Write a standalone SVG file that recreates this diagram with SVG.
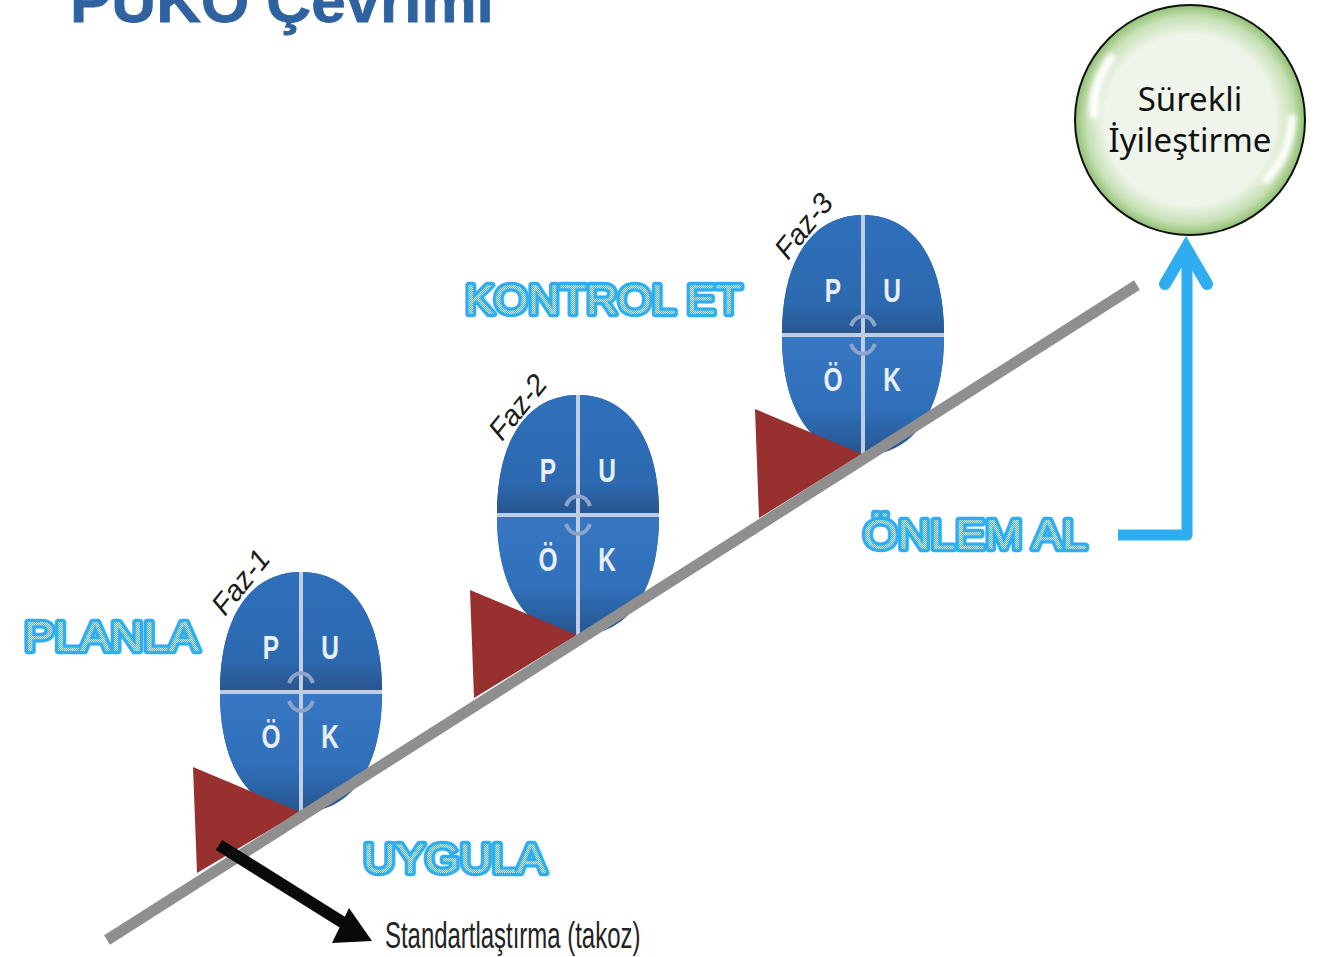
<svg xmlns="http://www.w3.org/2000/svg" width="1334" height="957" viewBox="0 0 1334 957">
<style>
.lbl{font-family:"Liberation Sans",Arial,sans-serif;font-size:42px;fill:url(#dots);stroke:#2eaef0;stroke-width:6.500px;paint-order:stroke;stroke-linejoin:round}
.ltr{font-family:"Liberation Sans",Arial,sans-serif;font-weight:700;font-size:34px;fill:#e9eff7;text-anchor:middle}
.faz{font-family:"Liberation Sans",Arial,sans-serif;font-style:italic;font-size:29px;fill:#1a1a1a}
.wedge{fill:#98302f}
.title{font-family:"Liberation Sans",Arial,sans-serif;font-weight:700;font-size:62px;fill:#2f62a0;stroke:#2f62a0;stroke-width:.8px}
.cap{font-family:"Noto Sans","Open Sans",sans-serif;font-size:33px;fill:#111;text-anchor:middle}
</style>
<defs>
<pattern id="dots" width="2" height="2" patternUnits="userSpaceOnUse">
<rect width="2" height="2" fill="#2eaef0"/><rect width="1" height="1" fill="#fff"/><rect x="1" y="1" width="1" height="1" fill="#fff"/>
</pattern>
<linearGradient id="topG" x1="0" y1="0" x2="0" y2="1"><stop offset="0" stop-color="#2f70bb"/><stop offset=".75" stop-color="#2c69b0"/><stop offset="1" stop-color="#28568f"/></linearGradient>
<linearGradient id="botG" x1="0" y1="0" x2="0" y2="1"><stop offset="0" stop-color="#3776c2"/><stop offset=".6" stop-color="#3070ba"/><stop offset="1" stop-color="#25558f"/></linearGradient>
<radialGradient id="ball" cx=".5" cy=".5" r=".5"><stop offset="0" stop-color="#f0f5eb"/><stop offset=".74" stop-color="#eff5ea"/><stop offset=".9" stop-color="#c6e0b4"/><stop offset="1" stop-color="#8fbf73"/></radialGradient>
<filter id="soft" x="-50%" y="-50%" width="200%" height="200%"><feGaussianBlur stdDeviation="2.500"/></filter>
<g id="wheel">
<path d="M-81,0C-81,-76 -50,-120 0,-120C50,-120 81,-76 81,0C81,76 50,120 0,120C-50,120 -81,76 -81,0Z" fill="#26528c"/>
<path d="M-81,-2C-81,-76 -50,-120 0,-120C50,-120 81,-76 81,-2Z" fill="url(#topG)"/>
<path d="M-81,2C-81,76 -50,120 0,120C50,120 81,76 81,2Z" fill="url(#botG)"/>
<path d="M-81,0H81M0,-120V120" stroke="#c0cde2" stroke-width="4" fill="none"/>
<path d="M-12,-9A13,16 0 0 1 12,-9M-12,9A13,16 0 0 0 12,9" stroke="#8da5cc" stroke-width="4" fill="none"/>
</g>
</defs>
<rect width="1334" height="957" fill="#fff"/>
<text class="title" x="70" y="22">PUKO Çevrimi</text>

<g id="faz1">
<use href="#wheel" transform="translate(301,692)"/>
<path class="wedge" d="M193,767L300,812L197,873Z"/>
<text class="ltr" transform="translate(271,659) scale(.72,1)">P</text>
<text class="ltr" transform="translate(330,659) scale(.72,1)">U</text>
<text class="ltr" transform="translate(271,748) scale(.72,1)">Ö</text>
<text class="ltr" transform="translate(330,748) scale(.72,1)">K</text>
<text class="faz" transform="translate(225,617) rotate(-51)">Faz-1</text>
</g>
<g id="faz2">
<use href="#wheel" transform="translate(578,515)"/>
<path class="wedge" d="M470,590L577,635L474,698Z"/>
<text class="ltr" transform="translate(548,482) scale(.72,1)">P</text>
<text class="ltr" transform="translate(607,482) scale(.72,1)">U</text>
<text class="ltr" transform="translate(548,571) scale(.72,1)">Ö</text>
<text class="ltr" transform="translate(607,571) scale(.72,1)">K</text>
<text class="faz" transform="translate(502,442) rotate(-51)">Faz-2</text>
</g>
<g id="faz3">
<use href="#wheel" transform="translate(863,335)"/>
<path class="wedge" d="M755,409L862,454L759,518Z"/>
<text class="ltr" transform="translate(833,302) scale(.72,1)">P</text>
<text class="ltr" transform="translate(892,302) scale(.72,1)">U</text>
<text class="ltr" transform="translate(833,391) scale(.72,1)">Ö</text>
<text class="ltr" transform="translate(892,391) scale(.72,1)">K</text>
<text class="faz" transform="translate(788,261) rotate(-51)">Faz-3</text>
</g>

<g id="surekli">
<circle cx="1190" cy="120" r="115" fill="url(#ball)" stroke="#111" stroke-width="2"/>
<path d="M1111,58Q1092,85 1094,115" stroke="#fff" stroke-width="9" stroke-linecap="round" fill="none" filter="url(#soft)"/>
<path d="M1292,118Q1290,155 1266,180" stroke="#fff" stroke-width="8" stroke-linecap="round" fill="none" filter="url(#soft)"/>
<text class="cap" x="1190" y="111">Sürekli</text>
<text class="cap" x="1190" y="152">İyileştirme</text>
</g>

<g id="planla"><text class="lbl" x="24" y="651" textLength="175" lengthAdjust="spacingAndGlyphs">PLANLA</text></g>
<g id="kontrol"><text class="lbl" x="465" y="314" textLength="277" lengthAdjust="spacingAndGlyphs">KONTROL ET</text></g>
<g id="onlem"><text class="lbl" x="863" y="549" textLength="224" lengthAdjust="spacingAndGlyphs">ÖNLEM AL</text></g>
<g id="uygula"><text class="lbl" x="363" y="873" textLength="183" lengthAdjust="spacingAndGlyphs">UYGULA</text></g>
<g id="takoz"><text transform="translate(385,948) scale(.665,1)" font-family="'Liberation Sans',Arial,sans-serif" font-size="36" fill="#222">Standartlaştırma (takoz)</text></g>

<g id="connectors">
<path d="M107,940L1137,285" stroke="#8f8f8f" stroke-width="11" fill="none"/>
<path d="M219,845L350,927" stroke="#0a0a0a" stroke-width="12" fill="none"/>
<path d="M349,908L372,941L332,943Z" fill="#0a0a0a"/>
<path d="M1118,535H1187V250" stroke="#2eaef0" stroke-width="11" stroke-linejoin="round" fill="none"/>
<path d="M1165,284L1186,248L1207,284" stroke="#2eaef0" stroke-width="12" stroke-linecap="round" stroke-linejoin="miter" fill="none"/>
</g>
</svg>
